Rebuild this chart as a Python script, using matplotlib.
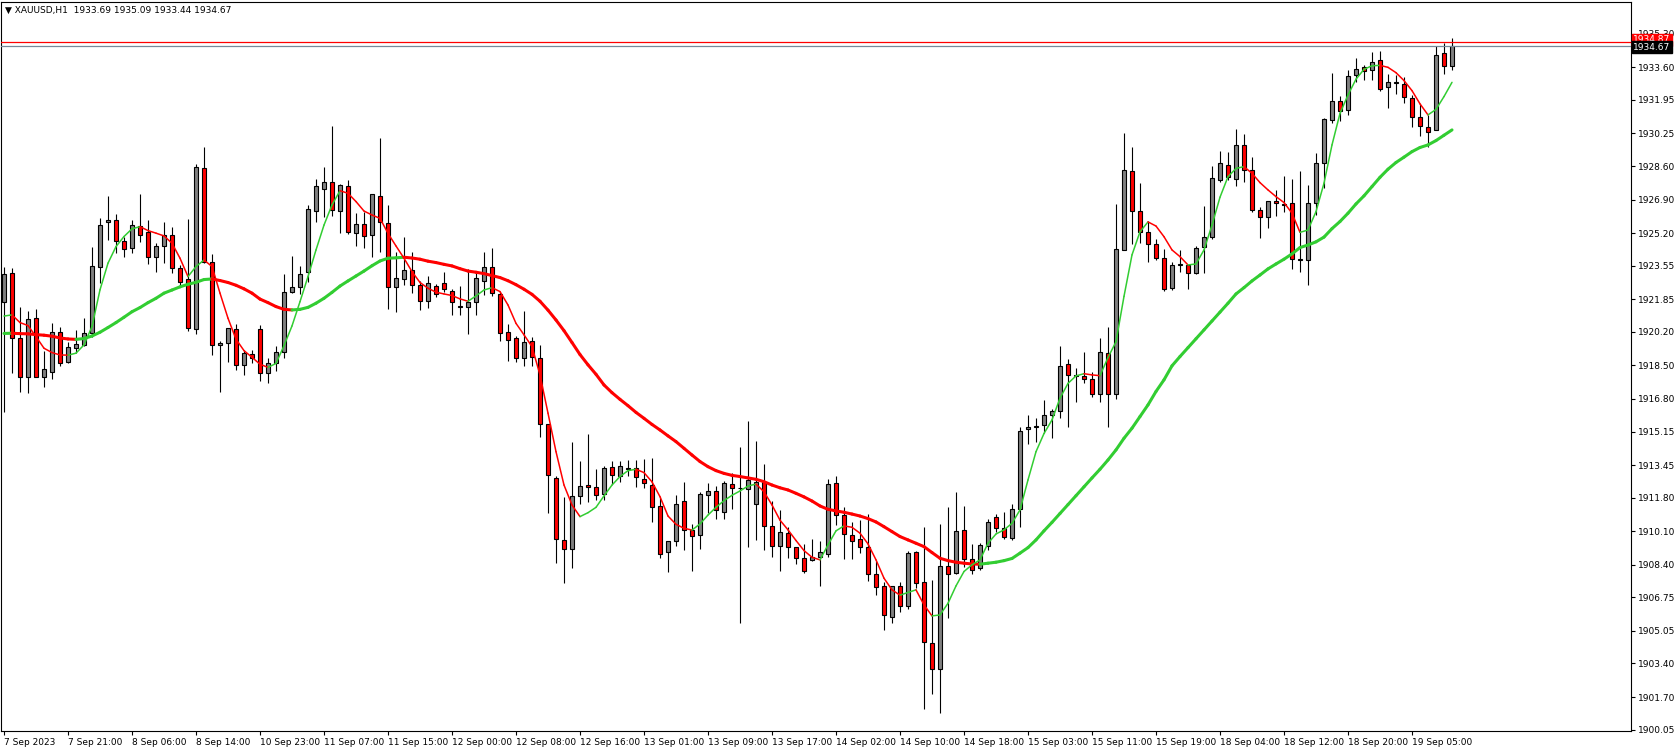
import matplotlib
matplotlib.use('Agg')
import matplotlib.pyplot as plt
from matplotlib.collections import LineCollection
from matplotlib.transforms import blended_transform_factory

# XAUUSD H1 candles
opens = [1921.73, 1923.17, 1919.88, 1917.93, 1920.89, 1917.93, 1918.19, 1920.21, 1918.66, 1919.37,
         1919.52, 1920.13, 1923.47, 1925.75, 1925.85, 1924.79, 1924.43, 1925.58, 1925.25, 1923.98,
         1924.54, 1925.09, 1923.42, 1922.87, 1920.33, 1928.49, 1923.73, 1919.52, 1919.62, 1920.33,
         1918.51, 1919.07, 1920.33, 1918.10, 1918.60, 1919.20, 1922.20, 1922.49, 1923.22, 1926.31,
         1927.42, 1927.78, 1926.31, 1927.57, 1925.19, 1925.65, 1925.09, 1927.07, 1925.70, 1922.46,
         1922.90, 1923.32, 1922.56, 1921.78, 1922.51, 1922.66, 1922.26, 1921.50, 1921.45, 1921.70,
         1922.80, 1923.47, 1922.10, 1920.18, 1919.87, 1918.89, 1919.72, 1918.86, 1915.52, 1912.78,
         1909.64, 1909.18, 1911.87, 1912.45, 1912.33, 1911.97, 1913.34, 1912.88, 1913.29, 1913.29,
         1912.73, 1912.43, 1911.36, 1909.03, 1909.59, 1911.61, 1910.15, 1909.89, 1911.92, 1912.12,
         1911.06, 1912.48, 1912.27, 1912.22, 1911.46, 1912.58, 1910.35, 1909.34, 1910.00, 1909.29,
         1908.73, 1908.63, 1908.78, 1908.93, 1912.53, 1910.91, 1909.89, 1909.69, 1909.29, 1907.92,
         1907.31, 1905.74, 1907.31, 1906.30, 1909.04, 1907.51, 1904.43, 1903.11, 1908.33, 1907.97,
         1910.15, 1908.68, 1908.22, 1909.34, 1910.81, 1910.25, 1909.74, 1911.21, 1915.26, 1915.40,
         1915.47, 1915.99, 1916.19, 1918.56, 1918.02, 1917.95, 1917.80, 1917.04, 1919.12, 1917.04,
         1924.33, 1928.33, 1926.31, 1925.24, 1924.64, 1923.93, 1922.41, 1923.58, 1923.57, 1923.17,
         1924.48, 1924.99, 1927.88, 1928.64, 1927.93, 1929.65, 1928.38, 1926.36, 1926.00, 1926.81,
         1926.68, 1926.71, 1923.86, 1923.84, 1926.71, 1928.74, 1930.92, 1931.88, 1931.42, 1933.20,
         1933.60, 1933.45, 1933.96, 1932.59, 1932.82, 1932.74, 1932.03, 1931.07, 1930.56, 1930.41,
         1934.31, 1933.69]
highs = [1923.50, 1923.42, 1921.45, 1921.28, 1921.35, 1919.25, 1920.64, 1920.45, 1919.67, 1920.28,
         1920.91, 1924.49, 1925.95, 1927.09, 1926.17, 1924.99, 1925.87, 1927.19, 1925.87, 1924.71,
         1925.77, 1925.52, 1923.59, 1925.92, 1928.69, 1929.55, 1924.13, 1919.76, 1920.42, 1920.59,
         1919.28, 1919.28, 1920.55, 1918.90, 1919.50, 1923.13, 1924.04, 1923.54, 1926.63, 1927.94,
         1928.54, 1930.63, 1927.69, 1927.89, 1926.22, 1926.29, 1927.17, 1930.00, 1926.63, 1924.26,
         1924.99, 1924.23, 1922.80, 1923.02, 1922.63, 1923.23, 1922.36, 1922.51, 1923.37, 1923.20,
         1924.23, 1924.45, 1922.22, 1920.58, 1919.99, 1921.26, 1919.93, 1919.54, 1915.55, 1912.90,
         1911.85, 1914.60, 1913.64, 1915.01, 1913.26, 1913.39, 1913.64, 1913.68, 1913.69, 1913.71,
         1913.74, 1913.79, 1911.82, 1909.62, 1911.93, 1912.59, 1910.47, 1912.09, 1912.54, 1912.39,
         1912.63, 1913.03, 1914.35, 1915.67, 1914.65, 1913.51, 1911.61, 1911.16, 1910.30, 1909.32,
         1909.44, 1909.69, 1909.59, 1912.75, 1912.90, 1911.31, 1910.55, 1910.67, 1910.96, 1908.58,
         1907.51, 1907.34, 1907.51, 1909.12, 1909.10, 1910.30, 1907.61, 1910.45, 1911.31, 1912.07,
         1911.36, 1909.44, 1909.49, 1910.71, 1910.96, 1911.06, 1911.46, 1915.37, 1915.97, 1915.82,
         1916.73, 1916.29, 1919.47, 1918.81, 1918.36, 1919.17, 1918.15, 1919.87, 1920.43, 1926.66,
         1930.26, 1929.55, 1927.73, 1925.80, 1924.89, 1924.38, 1923.72, 1924.33, 1923.60, 1924.53,
         1926.56, 1928.60, 1929.35, 1929.30, 1930.46, 1930.21, 1929.04, 1926.51, 1926.84, 1927.37,
         1928.08, 1927.93, 1928.35, 1927.64, 1929.25, 1931.02, 1933.30, 1932.13, 1933.45, 1934.06,
         1933.70, 1934.36, 1934.41, 1933.25, 1933.20, 1933.10, 1932.19, 1931.73, 1931.17, 1934.68,
         1934.82, 1935.09]
lows = [1916.14, 1918.10, 1917.14, 1917.09, 1917.90, 1917.39, 1917.82, 1918.49, 1918.64, 1919.12,
        1919.50, 1919.96, 1922.70, 1924.86, 1924.18, 1924.01, 1924.21, 1924.77, 1923.64, 1923.25,
        1923.71, 1923.20, 1922.46, 1920.26, 1920.10, 1923.71, 1919.01, 1917.14, 1918.66, 1918.27,
        1918.00, 1918.61, 1917.73, 1917.60, 1918.20, 1918.90, 1922.15, 1922.14, 1922.74, 1925.78,
        1926.04, 1926.07, 1925.23, 1925.14, 1924.57, 1924.43, 1924.01, 1924.23, 1921.34, 1921.23,
        1922.58, 1922.19, 1921.33, 1921.43, 1921.97, 1922.22, 1921.07, 1921.07, 1920.11, 1921.07,
        1922.08, 1922.02, 1919.74, 1918.74, 1918.69, 1918.47, 1918.47, 1914.86, 1911.01, 1908.48,
        1907.46, 1908.22, 1911.47, 1911.60, 1911.67, 1911.67, 1912.48, 1912.58, 1912.90, 1912.33,
        1912.27, 1910.55, 1908.76, 1908.05, 1909.37, 1909.17, 1908.10, 1909.22, 1911.04, 1910.70,
        1910.74, 1911.24, 1905.43, 1909.32, 1909.67, 1909.17, 1908.81, 1908.10, 1908.76, 1908.43,
        1907.97, 1908.60, 1907.34, 1908.81, 1910.43, 1908.71, 1908.68, 1909.02, 1907.56, 1906.89,
        1905.08, 1905.44, 1906.03, 1906.18, 1907.21, 1901.08, 1901.84, 1900.88, 1905.69, 1907.92,
        1908.27, 1907.92, 1908.12, 1909.13, 1910.05, 1909.69, 1909.64, 1910.30, 1914.51, 1914.61,
        1915.06, 1914.81, 1915.86, 1915.37, 1916.67, 1917.60, 1916.89, 1916.63, 1915.37, 1916.79,
        1924.33, 1924.64, 1924.72, 1923.72, 1923.83, 1922.26, 1922.31, 1923.22, 1922.36, 1923.12,
        1923.20, 1924.89, 1927.78, 1927.88, 1927.57, 1927.78, 1926.26, 1924.94, 1925.45, 1926.09,
        1926.26, 1923.37, 1923.25, 1922.58, 1926.11, 1927.47, 1930.77, 1930.87, 1931.17, 1932.84,
        1932.98, 1932.96, 1932.39, 1931.53, 1932.24, 1931.81, 1930.56, 1930.11, 1929.55, 1930.41,
        1933.25, 1933.44]
closes = [1923.12, 1919.88, 1917.93, 1920.84, 1917.93, 1918.31, 1920.18, 1918.64, 1919.42, 1919.57,
          1920.13, 1923.52, 1925.60, 1925.85, 1924.79, 1924.38, 1925.60, 1925.09, 1923.98, 1924.54,
          1925.09, 1923.42, 1922.75, 1920.38, 1928.54, 1923.73, 1919.54, 1919.62, 1920.38, 1918.51,
          1919.12, 1918.86, 1918.10, 1918.60, 1919.20, 1922.20, 1922.46, 1923.13, 1926.42, 1927.57,
          1927.78, 1926.37, 1927.62, 1925.24, 1925.65, 1925.07, 1927.17, 1925.75, 1922.46, 1922.91,
          1923.32, 1922.56, 1921.75, 1922.66, 1922.14, 1922.36, 1921.70, 1921.46, 1921.72, 1922.91,
          1923.47, 1922.15, 1920.13, 1919.77, 1918.89, 1919.67, 1918.91, 1915.52, 1912.94, 1909.69,
          1909.18, 1911.87, 1912.38, 1912.33, 1911.92, 1913.29, 1912.94, 1913.39, 1913.24, 1912.83,
          1912.53, 1911.31, 1908.93, 1909.59, 1911.46, 1910.15, 1909.88, 1911.97, 1912.12, 1911.16,
          1912.53, 1912.27, 1912.30, 1912.68, 1912.58, 1910.35, 1909.34, 1910.05, 1909.29, 1908.76,
          1908.07, 1908.78, 1909.03, 1912.48, 1910.91, 1909.95, 1909.59, 1909.29, 1907.92, 1907.26,
          1905.84, 1907.31, 1906.30, 1908.98, 1907.47, 1904.47, 1903.11, 1908.33, 1907.92, 1910.10,
          1908.68, 1908.12, 1909.39, 1910.55, 1910.25, 1909.79, 1911.21, 1915.16, 1915.37, 1915.44,
          1915.97, 1916.19, 1918.46, 1918.00, 1917.98, 1917.80, 1917.04, 1919.17, 1917.04, 1924.38,
          1928.38, 1926.31, 1925.24, 1924.64, 1923.93, 1922.36, 1923.57, 1923.62, 1923.17, 1924.43,
          1924.99, 1927.98, 1928.74, 1928.03, 1929.65, 1928.38, 1926.36, 1926.00, 1926.81, 1926.71,
          1926.64, 1923.88, 1923.90, 1926.71, 1928.74, 1930.97, 1931.88, 1931.37, 1933.15, 1933.50,
          1933.40, 1933.86, 1932.49, 1932.84, 1932.86, 1932.08, 1931.07, 1930.61, 1930.31, 1934.21,
          1933.65, 1934.67]

# moving averages as drawn on the chart
ma_fast = [1921.00, 1921.06, 1920.67, 1920.52, 1919.96, 1919.37, 1919.15, 1919.03, 1919.02, 1919.12,
           1919.54, 1920.47, 1922.33, 1923.68, 1924.52, 1925.03, 1925.42, 1925.53, 1925.33, 1925.20,
           1925.06, 1924.69, 1923.93, 1923.00, 1923.51, 1923.84, 1923.51, 1922.16, 1920.89, 1919.83,
           1919.25, 1918.91, 1918.56, 1918.40, 1918.60, 1919.50, 1920.50, 1921.73, 1923.00, 1924.35,
           1925.61, 1926.63, 1927.35, 1927.22, 1926.80, 1926.32, 1926.12, 1925.95, 1925.19, 1924.55,
           1923.93, 1923.25, 1922.70, 1922.41, 1922.21, 1922.12, 1922.04, 1921.87, 1921.75, 1922.02,
           1922.32, 1922.44, 1922.24, 1921.56, 1920.63, 1920.05, 1919.45, 1918.02, 1916.08, 1914.13,
           1912.44, 1911.43, 1910.84, 1911.04, 1911.31, 1911.89, 1912.44, 1912.87, 1913.17, 1913.24,
           1913.07, 1912.60, 1911.85, 1910.87, 1910.45, 1910.25, 1910.16, 1910.47, 1910.92, 1911.31,
           1911.65, 1911.92, 1912.14, 1912.39, 1912.49, 1912.10, 1911.43, 1910.66, 1910.17, 1909.63,
           1909.12, 1908.78, 1908.65, 1909.41, 1910.12, 1910.37, 1910.30, 1910.00, 1909.46, 1908.65,
           1907.72, 1907.13, 1906.86, 1907.00, 1907.13, 1906.37, 1905.81, 1905.86, 1906.45, 1907.33,
           1908.06, 1908.40, 1908.65, 1909.49, 1909.96, 1910.17, 1910.50, 1911.18, 1912.70, 1914.13,
           1915.05, 1915.74, 1916.84, 1917.59, 1917.97, 1918.08, 1918.02, 1917.98, 1918.90, 1919.70,
           1922.00, 1924.10, 1925.27, 1925.77, 1925.56, 1925.02, 1924.35, 1924.01, 1923.59, 1923.64,
           1924.35, 1925.61, 1927.02, 1928.06, 1928.48, 1928.57, 1928.23, 1927.76, 1927.39, 1927.05,
           1926.75, 1926.21, 1925.24, 1925.36, 1926.29, 1927.73, 1929.67, 1931.27, 1932.20, 1933.00,
           1933.50, 1933.68, 1933.70, 1933.60, 1933.33, 1932.93, 1932.42, 1931.75, 1931.19, 1931.47,
           1932.12, 1932.84]
ma_slow = [1920.12, 1920.13, 1920.11, 1920.10, 1920.06, 1920.03, 1919.98, 1919.89, 1919.84, 1919.82,
           1919.86, 1919.99, 1920.18, 1920.42, 1920.67, 1920.94, 1921.22, 1921.43, 1921.68, 1921.90,
           1922.16, 1922.32, 1922.48, 1922.61, 1922.71, 1922.85, 1922.88, 1922.80, 1922.70, 1922.56,
           1922.38, 1922.16, 1921.86, 1921.68, 1921.48, 1921.34, 1921.31, 1921.34, 1921.44, 1921.65,
           1921.90, 1922.20, 1922.52, 1922.78, 1923.03, 1923.28, 1923.55, 1923.79, 1923.93, 1923.95,
           1923.98, 1923.94, 1923.88, 1923.78, 1923.71, 1923.62, 1923.54, 1923.40, 1923.28, 1923.22,
           1923.15, 1923.05, 1922.95, 1922.79, 1922.59, 1922.36, 1922.10, 1921.75, 1921.30, 1920.80,
           1920.26, 1919.66, 1919.05, 1918.53, 1918.05, 1917.51, 1917.12, 1916.78, 1916.46, 1916.12,
           1915.82, 1915.51, 1915.23, 1914.93, 1914.64, 1914.30, 1913.96, 1913.63, 1913.37, 1913.17,
           1913.03, 1912.93, 1912.87, 1912.80, 1912.73, 1912.61, 1912.44, 1912.30, 1912.19, 1912.02,
           1911.84, 1911.63, 1911.38, 1911.21, 1911.13, 1911.06, 1910.97, 1910.87, 1910.74, 1910.57,
           1910.33, 1910.08, 1909.83, 1909.66, 1909.49, 1909.32, 1909.02, 1908.73, 1908.61, 1908.53,
           1908.48, 1908.44, 1908.43, 1908.48, 1908.53, 1908.61, 1908.72, 1908.99, 1909.27, 1909.66,
           1910.12, 1910.55, 1911.00, 1911.45, 1911.90, 1912.35, 1912.80, 1913.24, 1913.71, 1914.22,
           1914.81, 1915.32, 1915.91, 1916.50, 1917.18, 1917.77, 1918.48, 1918.95, 1919.40, 1919.85,
           1920.30, 1920.75, 1921.20, 1921.65, 1922.12, 1922.44, 1922.78, 1923.08, 1923.39, 1923.64,
           1923.88, 1924.15, 1924.47, 1924.60, 1924.76, 1925.00, 1925.43, 1925.79, 1926.21, 1926.68,
           1927.09, 1927.56, 1928.03, 1928.44, 1928.78, 1929.05, 1929.33, 1929.54, 1929.67, 1929.89,
           1930.16, 1930.43]

xlabels = ['7 Sep 2023', '7 Sep 21:00', '8 Sep 06:00', '8 Sep 14:00', '10 Sep 23:00', '11 Sep 07:00',
           '11 Sep 15:00', '12 Sep 00:00', '12 Sep 08:00', '12 Sep 16:00', '13 Sep 01:00',
           '13 Sep 09:00', '13 Sep 17:00', '14 Sep 02:00', '14 Sep 10:00', '14 Sep 18:00',
           '15 Sep 03:00', '15 Sep 11:00', '15 Sep 19:00', '18 Sep 04:00', '18 Sep 12:00',
           '18 Sep 20:00', '19 Sep 05:00']
ylevels = [1900.05, 1901.70, 1903.40, 1905.05, 1906.75, 1908.40, 1910.10, 1911.80, 1913.45,
           1915.15, 1916.80, 1918.50, 1920.20, 1921.85, 1923.55, 1925.20, 1926.90, 1928.60,
           1930.25, 1931.95, 1933.60, 1935.30]
ask = 1934.87
bid = 1934.67

RED = '#FF0000'
GREEN = '#32CD32'
GRAY = '#808080'

plt.rcParams['font.family'] = 'DejaVu Sans'

fig = plt.figure(figsize=(16.78, 7.52), dpi=100)
ax = fig.add_axes([1 / 1678, 21 / 752, 1630 / 1678, 729 / 752])

n = len(closes)
xs = list(range(n))

# wicks
ax.vlines(xs, lows, highs, color='black', linewidth=0.8, zorder=2)

# bodies
bottoms = [min(o, c) for o, c in zip(opens, closes)]
heights = [max(abs(c - o), 0.02) for o, c in zip(opens, closes)]
colors = [GRAY if c > o else RED for o, c in zip(opens, closes)]
ax.bar(xs, heights, bottom=bottoms, width=0.48, color=colors,
       edgecolor='black', linewidth=0.8, zorder=3)


def colored_line(vals, lw):
    segs = []
    cols = []
    for i in range(len(vals) - 1):
        segs.append([(i, vals[i]), (i + 1, vals[i + 1])])
        cols.append(GREEN if vals[i + 1] > vals[i] else RED)
    lc = LineCollection(segs, colors=cols, linewidths=lw, capstyle='round', zorder=4)
    ax.add_collection(lc)


colored_line(ma_slow, 2.2)
colored_line(ma_fast, 1.1)

# ask / bid lines
ax.axhline(ask, color=RED, linewidth=0.9, zorder=5)
ax.axhline(bid, color='#778899', linewidth=0.9, zorder=5)

ax.set_xlim(-0.375, 203.375)
ax.set_ylim(1899.98, 1936.91)

ax.yaxis.tick_right()
ax.set_yticks(ylevels)
ax.set_yticklabels(['%.2f' % v for v in ylevels])
ax.tick_params(axis='y', direction='out', length=3, width=0.8, labelsize=6.5, pad=2)

ax.set_xticks(list(range(0, n, 8)))
ax.set_xticklabels(xlabels)
ax.tick_params(axis='x', direction='out', length=3, width=0.8, labelsize=6.5, pad=2)
for lbl in ax.get_xticklabels():
    lbl.set_horizontalalignment('left')

for sp in ax.spines.values():
    sp.set_linewidth(0.8)

# price tags on the right axis (ask tag peeks out above the bid tag)
trans = blended_transform_factory(ax.transAxes, ax.transData)
ax.text(1.0015, ask + 0.12, '%.2f' % ask, transform=trans, fontsize=6.5, color='white',
        va='center', ha='left', clip_on=False, zorder=10,
        bbox=dict(boxstyle='square,pad=0.15', fc=RED, ec=RED))
ax.text(1.0015, bid - 0.05, '%.2f' % bid, transform=trans, fontsize=6.5, color='white',
        va='center', ha='left', clip_on=False, zorder=11,
        bbox=dict(boxstyle='square,pad=0.15', fc='black', ec='black'))

fig.text(5 / 1678, 1 - 10 / 752,
         '\u25bc XAUUSD,H1  %.2f %.2f %.2f %.2f' % (opens[-1], highs[-1], lows[-1], closes[-1]),
         fontsize=6.5, va='center', ha='left')

fig.savefig('out.png', dpi=100, facecolor='white')
